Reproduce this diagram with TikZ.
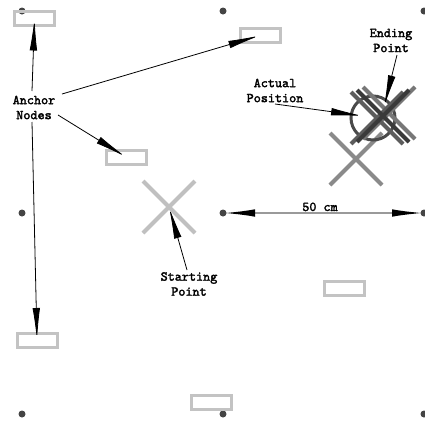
\documentclass[tikz,border=0pt]{standalone}
\usepackage{fontspec}
\newfontfamily\lblfont{lmmono10-regular.otf}[FakeBold=2.2]
\usetikzlibrary{arrows.meta}
\definecolor{boxgray}{HTML}{C3C3C3}
\definecolor{dotgray}{HTML}{444444}
\definecolor{startgray}{HTML}{C0C0C0}
\definecolor{midgray}{HTML}{8A8A8A}
\definecolor{clusterA}{HTML}{3A3A3A}
\definecolor{clusterB}{HTML}{5C5C5C}
\definecolor{clusterC}{HTML}{777777}
\definecolor{circgray}{HTML}{4A4A4A}
\definecolor{linegray}{HTML}{9A9A9A}
\begin{document}
\begin{tikzpicture}[x=1pt,y=-1pt,
  anchorbox/.style={draw=boxgray, line width=3pt, minimum width=40pt, minimum height=14pt, inner sep=0pt},
  gdot/.style={circle, fill=dotgray, minimum size=7pt, inner sep=0pt},
  lbl/.style={font=\lblfont\fontsize{13.5}{15}\selectfont, align=center, inner sep=0pt},
  ptr/.style={-{Latex[length=32pt,width=7.5pt]}, line width=0.8pt, black},
  crossline/.style={line width=4pt},
]
\useasboundingbox (0,0) rectangle (425,421);
% grid dots
\node[gdot] (d1) at (22,11) {};
\node[gdot] (d2) at (223,11) {};
\node[gdot] (d3) at (424,11) {};
\node[gdot] (d4) at (22,213) {};
\node[gdot] (d5) at (223,213) {};
\node[gdot] (d6) at (424,213) {};
\node[gdot] (d7) at (22,414) {};
\node[gdot] (d8) at (223,414) {};
\node[gdot] (d9) at (424,414) {};
% anchor boxes
\node[anchorbox] (r1) at (34.5,18.5) {};
\node[anchorbox] (r2) at (260,35.5) {};
\node[anchorbox] (r3) at (126,157) {};
\node[anchorbox] (r4) at (344,288) {};
\node[anchorbox] (r5) at (37,340) {};
\node[anchorbox] (r6) at (211,402) {};
% crosses
\coordinate (sc) at (169,207);
\coordinate (mc) at (356,159);
\coordinate (ca) at (383,116);
\coordinate (cb) at (377,118);
\coordinate (cc) at (389,113);
\draw[crossline, startgray] (sc) +(-26,-26) -- +(26,26) (sc) +(26,-26) -- +(-26,26);
\draw[crossline, midgray] (mc) +(-26,-26) -- +(26,26) (mc) +(26,-26) -- +(-26,26);
\node[circle, draw=circgray, line width=3pt, minimum size=44pt, inner sep=0pt] (circ) at (373,118) {};
\draw[crossline, clusterC] (cc) +(-26,-26) -- +(26,26) (cc) +(26,-26) -- +(-26,26);
\draw[crossline, clusterB] (cb) +(-26,-26) -- +(26,26) (cb) +(26,-26) -- +(-26,26);
\draw[crossline, clusterA] (ca) +(-26,-26) -- +(26,26) (ca) +(26,-26) -- +(-26,26);
% labels
\node[lbl] (anc) at (34,107.5) {Anchor\\Nodes};
\node[lbl] (ep) at (391,40.5) {Ending\\Point};
\node[lbl] (ap) at (275,90.5) {Actual\\Position};
\node[lbl] (sp) at (189,284) {Starting\\Point};
\node[lbl, anchor=base] (cm) at (320,211) {50 cm};
% arrow tails
\coordinate (t1) at (32,91);
\coordinate (t2) at (62,94);
\coordinate (t3) at (58,115);
\coordinate (t4) at (32,122);
\coordinate (te) at (397,55);
\coordinate (he) at (384,107);
\coordinate (ta) at (275,104);
\coordinate (ha) at (363,116);
\coordinate (ts) at (187,270);
% arrows
\draw[ptr] (t1) -- (r1.center);
\draw[ptr] (t2) -- (r2.center);
\draw[ptr] (t3) -- (r3.center);
\draw[ptr] (t4) -- (r5.center);
\draw[ptr] (te) -- (he);
\draw[ptr] (ta) -- (ha);
\draw[ptr] (ts) -- (sc);
\draw[draw=linegray, line width=2pt, {Latex[length=32pt,width=7.5pt,color=black]}-{Latex[length=32pt,width=7.5pt,color=black]}] (d5.center) -- (d6.center);
\end{tikzpicture}
\end{document}
